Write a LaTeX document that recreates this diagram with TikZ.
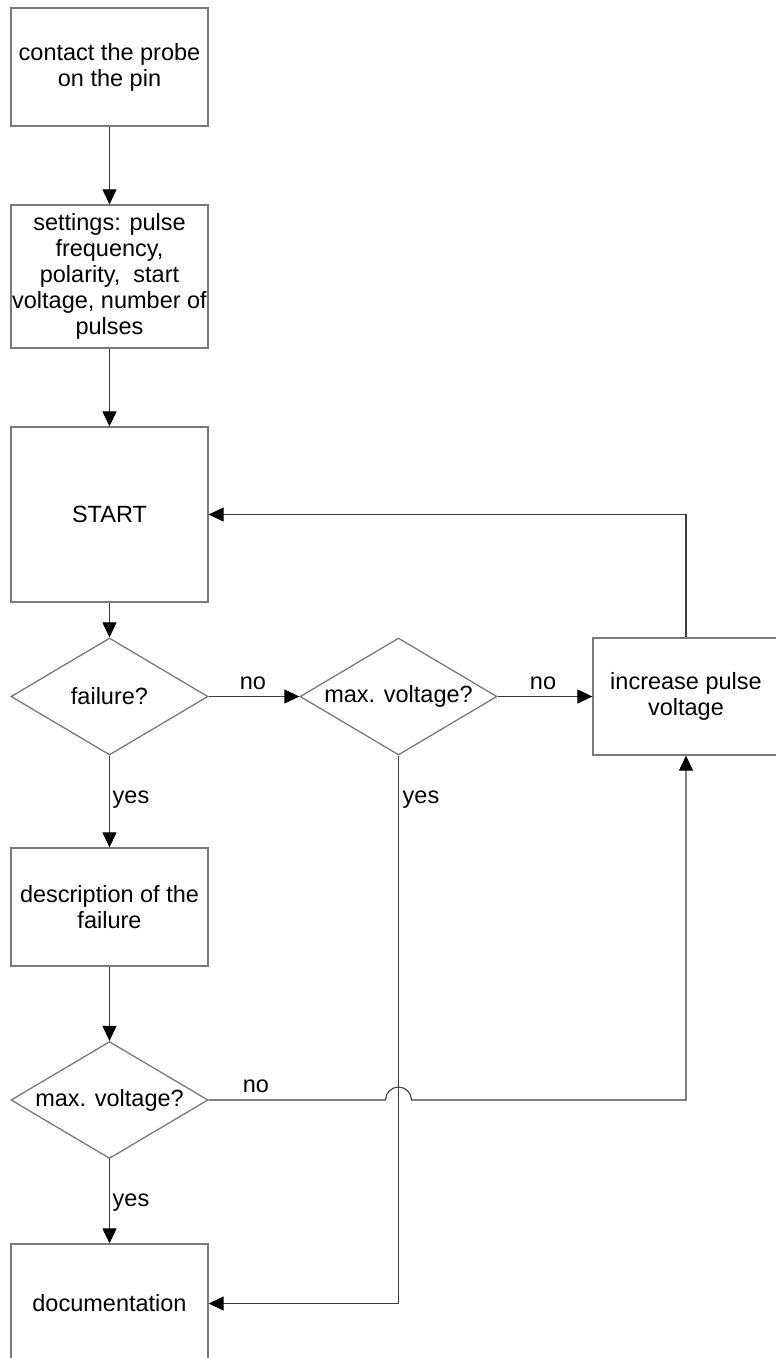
\documentclass[tikz,border=0pt]{standalone}
\usepackage{fontspec}
\setmainfont{Liberation Sans}
\usetikzlibrary{arrows.meta,shapes.geometric,calc}
\definecolor{boxline}{HTML}{7A7A7A}
\definecolor{conline}{HTML}{3C3C3C}
\begin{document}
\begin{tikzpicture}[x=1pt,y=-1pt,
  every node/.style={font=\fontsize{23.5}{26}\selectfont, text=black},
  stepbox/.style={draw=boxline, line width=1.3pt, minimum width=197pt, inner sep=0pt, align=center, fill=white},
  decbox/.style={diamond, draw=boxline, line width=1.3pt, minimum width=197pt, minimum height=117pt, shape aspect=1.68, inner sep=0pt, align=center, fill=white},
  arr/.style={draw=conline, line width=1.1pt, -{Triangle[length=15pt,width=14pt,fill=black,color=black]}},
  lbl/.style={inner sep=0pt}]
\useasboundingbox (0,0) rectangle (776,1358);
\fill[white] (0,0) rectangle (776,1358);

\node[stepbox, minimum height=118pt] (contact) at (109.5,67) {contact the probe\\on the pin};
\node[stepbox, minimum height=143pt] (settings) at (109.5,276.5) {settings: pulse\\frequency,\\polarity,~ start\\voltage, number of\\pulses};
\node[stepbox, minimum height=175pt] (start) at (109.5,514.5) {START};
\node[decbox] (fail) at (109.5,696.5) {failure?};
\node[decbox] (maxa) at (398.5,696.5) {max. voltage?};
\node[stepbox, minimum width=186pt, minimum height=117pt] (inc) at (686,696.5) {increase pulse\\voltage};
\node[stepbox, minimum height=118pt] (desc) at (109.5,907) {description of the\\failure};
\node[decbox] (maxb) at (109.5,1100) {max. voltage?};
\node[stepbox, minimum height=119pt] (doc) at (109.5,1303.5) {documentation};

\draw[arr] (contact) -- (settings);
\draw[arr] (settings) -- (start);
\draw[arr] (start) -- (fail);
\draw[arr] (fail) -- (maxa);
\draw[arr] (maxa) -- (inc);
\draw[arr] (inc.north) |- (start.east);
\draw[arr] (fail) -- (desc);
\draw[arr] (desc) -- (maxb);
\draw[arr] (maxb) -- (doc);
\draw[arr] (maxa.south) |- (doc.east);
\coordinate (jump) at (maxa.south |- maxb.east);
\coordinate (turn) at (inc.south |- maxb.east);
\draw[arr] (maxb.east) -- ($(jump)+(-13,0)$) arc[start angle=180, end angle=0, radius=13pt] -- (turn) -- (inc.south);

\node[lbl] (no1) at (253,683) {no};
\node[lbl] (no2) at (543,683) {no};
\node[lbl] (no3) at (256,1086) {no};
\node[lbl] (yes1) at (131,800) {yes};
\node[lbl] (yes2) at (421,800) {yes};
\node[lbl] (yes3) at (131,1203) {yes};
\end{tikzpicture}
\end{document}
